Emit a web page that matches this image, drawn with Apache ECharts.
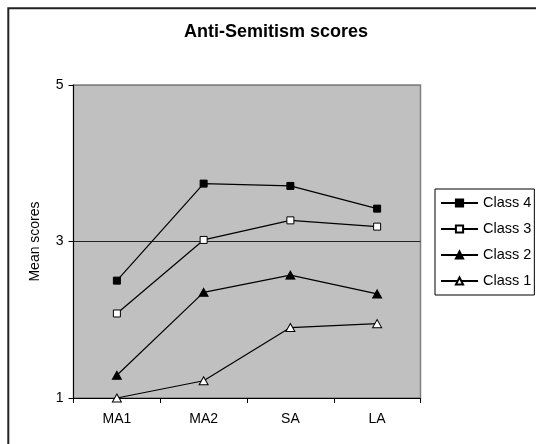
<!DOCTYPE html>
<html>
<head>
<meta charset="utf-8">
<script src="https://cdn.jsdelivr.net/npm/echarts@6/dist/echarts.min.js"></script>
<style>
html,body{margin:0;padding:0;background:#fff;}
#c{width:536px;height:444px;}
</style>
</head>
<body>
<div id="c"></div>
<script>
const categories = ['MA1', 'MA2', 'SA', 'LA'];
const class4 = [2.50, 3.74, 3.71, 3.42];
const class3 = [2.08, 3.02, 3.27, 3.19];
const class2 = [1.29, 2.35, 2.57, 2.33];
const class1 = [1.00, 1.22, 1.90, 1.95];
const yTicks = [1, 3, 5];
const titleText = 'Anti-Semitism scores';
const yName = 'Mean scores';

const FONT = '"Liberation Sans", Arial, sans-serif';
const chart = echarts.init(document.getElementById('c'), null, {renderer: 'canvas'});

function mk(name, data, symbol, size, fill) {
  return {
    name: name, type: 'line', data: data,
    symbol: symbol, symbolSize: size,
    lineStyle: {color: '#000', width: 1.2},
    itemStyle: {color: fill, borderColor: '#000', borderWidth: 1},
    emphasis: {disabled: true},
    z: 3
  };
}

chart.setOption({
  animation: false,
  backgroundColor: '#fff',
  textStyle: {fontFamily: FONT},
  title: {
    text: titleText, left: 184, top: 23, padding: 0,
    textStyle: {fontFamily: FONT, fontSize: 18, fontWeight: 'bold', color: '#000'}
  },
  graphic: [{
    type: 'rect', silent: true, z: 100,
    shape: {x: 8.3, y: 8.3, width: 560, height: 460},
    style: {fill: 'none', stroke: '#222', lineWidth: 2}
  }],
  grid: {
    left: 73.5, right: 115.5, top: 85, bottom: 46,
    show: true, backgroundColor: '#c0c0c0', borderColor: '#808080', borderWidth: 1.5
  },
  legend: {
    data: ['Class 4', 'Class 3', 'Class 2', 'Class 1'],
    orient: 'vertical', left: 435, top: 189,
    padding: [6, 3, 6, 5],
    itemWidth: 37, itemHeight: 9, itemGap: 10,
    borderColor: '#000', borderWidth: 1,
    backgroundColor: '#fff',
    textStyle: {fontFamily: FONT, fontSize: 14.5, color: '#000', lineHeight: 16}
  },
  xAxis: {
    type: 'category', data: categories, boundaryGap: true,
    axisLine: {lineStyle: {color: '#000', width: 1}},
    axisTick: {show: true, length: 5, lineStyle: {color: '#000'}},
    axisLabel: {fontFamily: FONT, fontSize: 14, color: '#000', margin: 14},
    splitLine: {show: false}
  },
  yAxis: {
    type: 'value', min: 1, max: 5, interval: 2,
    name: yName, nameLocation: 'middle', nameGap: 31, nameRotate: 90,
    nameTextStyle: {fontFamily: FONT, fontSize: 14, color: '#000'},
    axisLine: {show: true, lineStyle: {color: '#000', width: 1}},
    axisTick: {show: true, length: 5, lineStyle: {color: '#000'}},
    axisLabel: {fontFamily: FONT, fontSize: 14, color: '#000', margin: 10,
      formatter: function (v) { return yTicks.indexOf(v) >= 0 ? String(v) : ''; }},
    splitLine: {show: true, lineStyle: {color: ['#808080', '#222222', '#808080'], width: 1}}
  },
  series: [
    mk('Class 4', class4, 'rect', 7, '#000'),
    mk('Class 3', class3, 'rect', 7, '#fff'),
    mk('Class 2', class2, 'triangle', [9, 8], '#000'),
    mk('Class 1', class1, 'triangle', [9, 8], '#fff')
  ]
});
</script>
</body>
</html>
